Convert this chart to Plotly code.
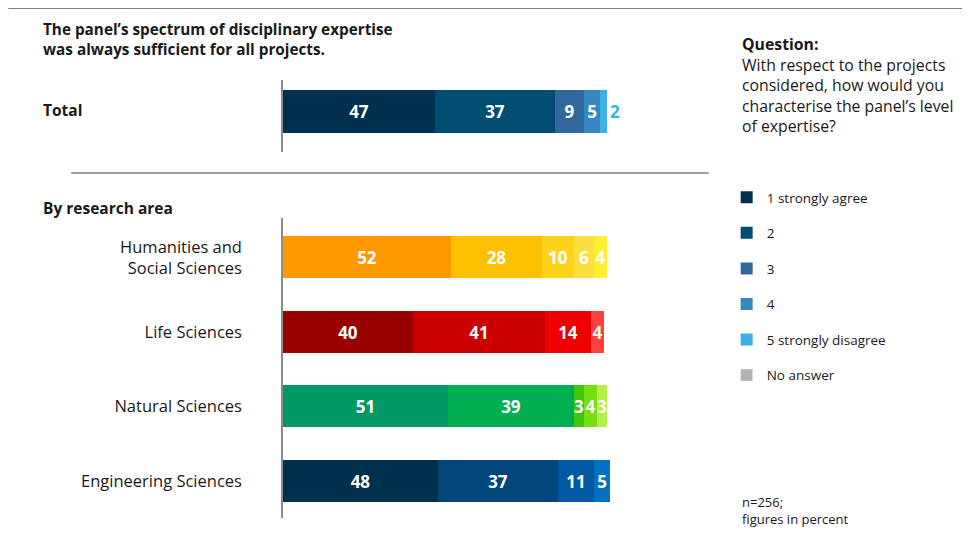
import plotly.graph_objects as go

# ---------------- data ----------------
categories = ["1 strongly agree", "2", "3", "4", "5 strongly disagree"]
no_answer_label = "No answer"

total_label = "Total"
total_values = [47, 37, 9, 5, 2]
total_colors = ["#00304E", "#004D72", "#31679A", "#3688C3", "#3DB1E6"]

areas = ["Humanities and<br>Social Sciences", "Life Sciences", "Natural Sciences", "Engineering Sciences"]
hum_values = [52, 28, 10, 6, 4]
life_values = [40, 41, 14, 4, None]
nat_values = [51, 39, 3, 4, 3]
eng_values = [48, 37, 11, 5, None]
area_values = [hum_values, life_values, nat_values, eng_values]

hum_colors = ["#FF9900", "#FFC000", "#FFD319", "#FFDF3F", "#FFEF33"]
life_colors = ["#990000", "#CC0000", "#EE0000", "#FF4040", "#FF4040"]
nat_colors = ["#009966", "#00B050", "#3DC710", "#77E014", "#B3F04A"]
eng_colors = ["#00304E", "#00467A", "#0059A0", "#0070C0", "#0070C0"]
area_colors = [hum_colors, life_colors, nat_colors, eng_colors]
no_answer_color = "#B2B2B2"

title_text = "The panel’s spectrum of disciplinary expertise<br>was always sufficient for all projects."
section_text = "By research area"
question_text = ("<b>Question:</b><br>With respect to the projects<br>considered, how would you<br>"
                 "characterise the panel’s level<br>of expertise?")
note_text = "n=256;<br>figures in percent"

# ---------------- layout helpers ----------------
W, H = 970, 539
OFF = 8                      # page body margin
X_MAX = 101
L, T, B = 283 - OFF, 80 - OFF, 518 - OFF
R = L + 3.24 * X_MAX         # 100 % -> 324 px


def px(x):
    return (x - OFF - L) / (R - L)


def py(y):
    return (B - (y - OFF)) / (B - T)


FONT = "Open Sans"
TXT = "#1a1a1a"

fig = go.Figure()

# research-area bars (one trace per answer category)
for i in range(len(categories)):
    xs = [vals[i] for vals in area_values]
    cols = [c[i] for c in area_colors]
    fig.add_trace(go.Bar(
        x=xs, y=areas, orientation="h",
        marker=dict(color=cols, line=dict(width=0)),
        width=0.564,
        text=[("" if v is None else str(v)) for v in xs],
        textposition="inside", insidetextanchor="middle",
        textfont=dict(family=FONT, size=17, color="white", weight="bold"),
        showlegend=False, xaxis="x", yaxis="y",
        hoverinfo="skip", cliponaxis=False,
    ))

# total bar
for i, name in enumerate(categories):
    last = i == len(categories) - 1
    fig.add_trace(go.Bar(
        x=[total_values[i]], y=[total_label], orientation="h",
        marker=dict(color=total_colors[i], line=dict(width=0)),
        width=0.577,
        text=[str(total_values[i])],
        textposition="outside" if last else "inside", insidetextanchor="middle",
        textfont=dict(family=FONT, size=17, weight="bold",
                      color=total_colors[i] if last else "white"),
        name=name, legendgroup=str(i), showlegend=True,
        xaxis="x", yaxis="y2", hoverinfo="skip", cliponaxis=False,
    ))

fig.add_trace(go.Bar(
    x=[None], y=[total_label], orientation="h",
    marker=dict(color=no_answer_color), name=no_answer_label,
    legendgroup="na", showlegend=True, xaxis="x", yaxis="y2",
))

shapes = [
    dict(type="line", xref="paper", yref="paper", x0=px(8), x1=px(980), y0=py(8), y1=py(8),
         line=dict(color="#808080", width=2)),
    dict(type="line", xref="paper", yref="paper", x0=px(71), x1=px(709), y0=py(173), y1=py(173),
         line=dict(color="#808080", width=1.5)),
]

annotations = [
    dict(text=f"<b>{title_text}</b>", x=px(41), y=py(39), xref="paper", yref="paper",
         xanchor="left", yanchor="middle", align="left", showarrow=False,
         font=dict(family=FONT, size=15.3, color=TXT)),
    dict(text=f"<b>{total_label}</b>", x=px(41), y=py(110), xref="paper", yref="paper",
         xanchor="left", yanchor="middle", align="left", showarrow=False,
         font=dict(family=FONT, size=15.5, color=TXT)),
    dict(text=f"<b>{section_text}</b>", x=px(41), y=py(208), xref="paper", yref="paper",
         xanchor="left", yanchor="middle", align="left", showarrow=False,
         font=dict(family=FONT, size=15.5, color=TXT)),
    dict(text=question_text, x=px(740), y=py(85), xref="paper", yref="paper",
         xanchor="left", yanchor="middle", align="left", showarrow=False,
         font=dict(family=FONT, size=15.8, color=TXT)),
    dict(text=note_text, x=px(740), y=py(510.5), xref="paper", yref="paper",
         xanchor="left", yanchor="middle", align="left", showarrow=False,
         font=dict(family=FONT, size=13, color=TXT)),
]

fig.update_layout(
    width=W, height=H,
    margin=dict(l=L, r=W - R, t=T, b=H - B, pad=0),
    paper_bgcolor="white", plot_bgcolor="white",
    barmode="stack", bargap=0,
    font=dict(family=FONT, color=TXT),
    uniformtext=dict(minsize=17, mode="show"),
    xaxis=dict(range=[0, X_MAX], visible=False, fixedrange=True),
    yaxis=dict(domain=[0, py(218)], type="category",
               categoryarray=areas[::-1], range=[-0.497, 3.530],
               showline=True, linecolor="#8c8c8c", linewidth=1.5,
               showgrid=False, zeroline=False, ticks="",
               ticklabelstandoff=36,
               tickfont=dict(family=FONT, size=16.5, color=TXT)),
    yaxis2=dict(domain=[py(152), 1], type="category", anchor="x",
                range=[-0.5436, 0.4228],
                showline=True, linecolor="#8c8c8c", linewidth=1.5,
                showgrid=False, zeroline=False, showticklabels=False, ticks=""),
    legend=dict(x=px(727), y=py(182), xanchor="left", yanchor="top",
                traceorder="grouped", tracegroupgap=15,
                font=dict(family=FONT, size=13.5, color=TXT),
                bgcolor="rgba(0,0,0,0)", borderwidth=0),
    shapes=shapes, annotations=annotations,
)

fig.write_html("out.html")
